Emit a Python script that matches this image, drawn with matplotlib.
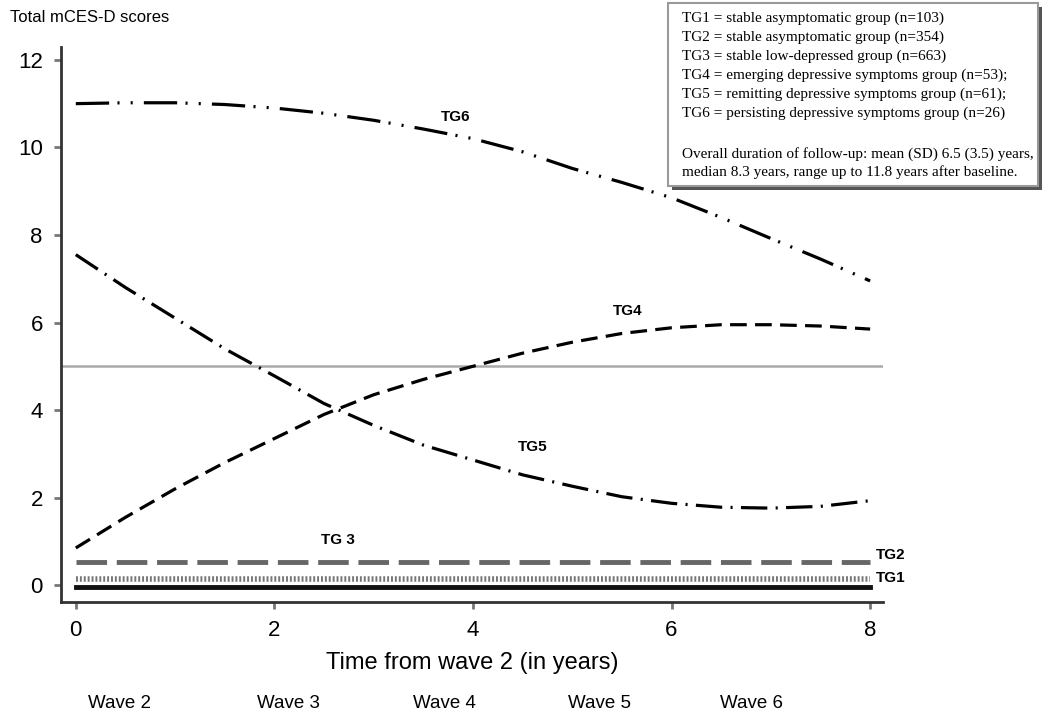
import matplotlib
matplotlib.use("Agg")
import matplotlib.pyplot as plt
from matplotlib.patches import Rectangle

plt.rcParams['font.family'] = ['Liberation Sans', 'DejaVu Sans']
plt.rcParams['lines.scale_dashes'] = False

# ---- data ----
years = [0, 0.5, 1, 1.5, 2, 2.5, 3, 3.5, 4, 4.5, 5, 5.5, 6, 6.5, 7, 7.5, 8]
tg6 = [11.0, 11.02, 11.02, 10.98, 10.9, 10.78, 10.62, 10.42, 10.2, 9.9, 9.52, 9.2, 8.85, 8.4, 7.92, 7.45, 6.95]
tg4 = [0.85, 1.55, 2.2, 2.8, 3.35, 3.9, 4.35, 4.7, 5.0, 5.3, 5.55, 5.75, 5.88, 5.95, 5.95, 5.92, 5.85]
tg5 = [7.55, 6.8, 6.1, 5.4, 4.78, 4.15, 3.65, 3.2, 2.86, 2.52, 2.26, 2.02, 1.87, 1.78, 1.76, 1.8, 1.93]
tg2 = [0.52] * len(years)
tg3 = [0.13] * len(years)
tg1 = [-0.05] * len(years)
cutoff = 5.0

xticks = [0, 2, 4, 6, 8]
yticks = [0, 2, 4, 6, 8, 10, 12]
wave_labels = ["Wave 2", "Wave 3", "Wave 4", "Wave 5", "Wave 6"]
legend_lines = [
    "TG1 = stable asymptomatic group (n=103)",
    "TG2 = stable asymptomatic group (n=354)",
    "TG3 = stable low-depressed group (n=663)",
    "TG4 = emerging depressive symptoms group (n=53);",
    "TG5 = remitting depressive symptoms group (n=61);",
    "TG6 = persisting depressive symptoms group (n=26)",
]
followup_lines = [
    "Overall duration of follow-up: mean (SD) 6.5 (3.5) years,",
    "median 8.3 years, range up to 11.8 years after baseline.",
]

fig = plt.figure(figsize=(10.5, 7.19), dpi=100)
ax = fig.add_axes([0.058, 0.163, 0.783, 0.772])
ax.set_xlim(-0.15, 8.13)
ax.set_ylim(-0.38, 12.3)

ax.axhline(cutoff, color="#aaaaaa", lw=1.8, zorder=1)

ax.plot(years, tg6, color="black", lw=2.3, linestyle=(0, (24, 6, 1.5, 8, 1.5, 8)))
ax.plot(years, tg5, color="black", lw=2.3, linestyle=(0, (19, 6, 1.5, 6)))
ax.plot(years, tg4, color="black", lw=2.3, linestyle=(0, (12, 6)))
ax.plot(years, tg2, color="#666666", lw=3.5, linestyle=(0, (22, 7)))
ax.plot(years, tg3, color="#777777", lw=4, linestyle=(0, (1.4, 1.4)))
ax.plot(years, tg1, color="#111111", lw=3.5)

lab = dict(fontsize=11, fontweight="bold", color="black")
ax.text(3.83, 10.7, "TG6", ha="center", va="center", **lab)
ax.text(5.56, 6.26, "TG4", ha="center", va="center", **lab)
ax.text(4.6, 3.15, "TG5", ha="center", va="center", **lab)
ax.text(2.64, 1.03, "TG 3", ha="center", va="center", **lab)
ax.text(8.06, 0.68, "TG2", ha="left", va="center", **lab)
ax.text(8.06, 0.17, "TG1", ha="left", va="center", **lab)

for s in ["top", "right"]:
    ax.spines[s].set_visible(False)
for s in ["left", "bottom"]:
    ax.spines[s].set_color("#333333")
    ax.spines[s].set_linewidth(2)

ax.set_xticks(xticks)
ax.set_yticks(yticks)
ax.tick_params(axis="both", direction="out", length=5, width=2, color="#777777",
               labelsize=16, pad=8)
ax.set_xlabel("Time from wave 2 (in years)", fontsize=17, labelpad=8)

fig.text(0.01, 0.975, "Total mCES-D scores", fontsize=12, ha="left", va="center")

wave_x = [120, 288, 444, 600, 751]
for wx, wl in zip(wave_x, wave_labels):
    fig.text(wx / 1050, 1 - 704 / 719, wl, fontsize=13.5, ha="center", va="center")

# legend box with shadow
W, H = 1050, 719
bx0, by0, bx1, by1 = 668, 3, 1038, 186
fig.patches.append(Rectangle(((bx0 + 4) / W, 1 - (by1 + 4) / H), (bx1 - bx0) / W, (by1 - by0) / H,
                             transform=fig.transFigure, facecolor="#555555", edgecolor="none", zorder=5))
fig.patches.append(Rectangle((bx0 / W, 1 - by1 / H), (bx1 - bx0) / W, (by1 - by0) / H,
                             transform=fig.transFigure, facecolor="white", edgecolor="#999999",
                             lw=1.5, zorder=6))
ys = [18, 37, 56, 75, 94, 113]
for yy, t in zip(ys, legend_lines):
    fig.text(682 / W, 1 - yy / H, t, fontsize=11, family="Liberation Serif",
             ha="left", va="center", zorder=7)
for yy, t in zip([154, 172], followup_lines):
    fig.text(682 / W, 1 - yy / H, t, fontsize=11, family="Liberation Serif",
             ha="left", va="center", zorder=7)

fig.savefig("out.png", dpi=100)
